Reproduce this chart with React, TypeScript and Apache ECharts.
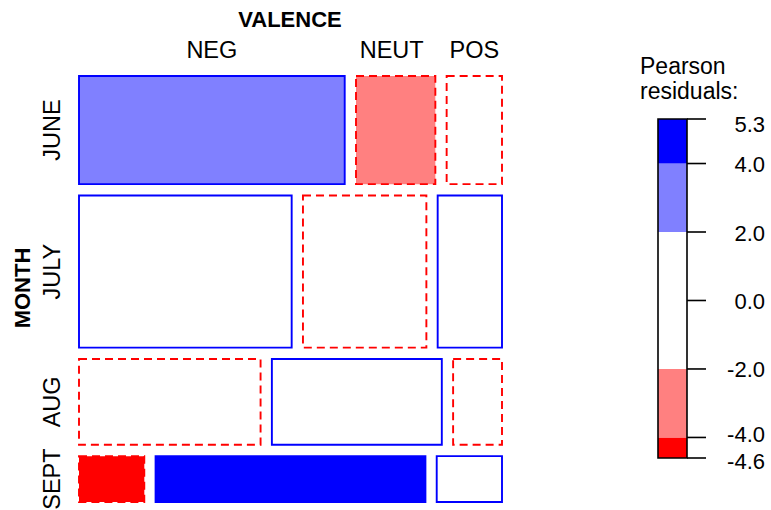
import React, { useEffect, useRef } from "react";
import * as echarts from "echarts";

// ---- data ----
const months = ["JUNE", "JULY", "AUG", "SEPT"];
const valences = ["NEG", "NEUT", "POS"];
const negCounts = [144, 162, 78, 15];
const neutCounts = [43, 94, 73, 62];
const posCounts = [30, 49, 21, 15];

const legendTicks = [5.3, 4.0, 2.0, 0.0, -2.0, -4.0, -4.6];
const legendTickLabels = ["5.3", "4.0", "2.0", "0.0", "-2.0", "-4.0", "-4.6"];
const shadeBreaks = [-4.6, -4, -2, 2, 4, 5.3];
const shadeColors = ["#FF0000", "#FF8080", "#FFFFFF", "#8080FF", "#0000FF"];

const FONT = '"Liberation Sans", Arial, Helvetica, sans-serif';
const LABEL_SIZE = 23.5;

function shadeFor(r: number): string {
  for (let k = 0; k < shadeColors.length; k++) {
    if (r < shadeBreaks[k + 1] || k === shadeColors.length - 1) {
      if (r >= shadeBreaks[k] || k === 0) return shadeColors[k];
    }
  }
  return "#FFFFFF";
}

function buildCells() {
  const table = months.map((_, i) => [negCounts[i], neutCounts[i], posCounts[i]]);
  const rowTot = table.map((r) => r.reduce((a, b) => a + b, 0));
  const colTot = valences.map((_, j) => table.reduce((a, r) => a + r[j], 0));
  const N = rowTot.reduce((a, b) => a + b, 0);
  const gx = 11.3 / 423; // spacing between columns (fraction of plot width)
  const gy = 11.4 / 426; // spacing between rows (fraction of plot height)
  const availY = 1 - gy * (months.length - 1);
  const availX = 1 - gx * (valences.length - 1);
  const cells: number[][] = [];
  let y = 0;
  table.forEach((row, i) => {
    const h = (rowTot[i] / N) * availY;
    let x = 0;
    row.forEach((o, j) => {
      const w = (o / rowTot[i]) * availX;
      const e = (rowTot[i] * colTot[j]) / N;
      const res = (o - e) / Math.sqrt(e);
      cells.push([x, x + w, y, y + h, res, i, j]);
      x += w + gx;
    });
    y += h + gy;
  });
  return cells;
}

export default function App() {
  const ref = useRef<HTMLDivElement>(null);
  useEffect(() => {
    if (!ref.current) return;
    const chart = echarts.init(ref.current, null, { renderer: "svg" });
    const cells = buildCells();
    const bands = shadeColors.map((c, k) => [shadeBreaks[k], shadeBreaks[k + 1], k]);
    const ticks = legendTicks.map((v, k) => [v, k]);

    const option: any = {
      animation: false,
      backgroundColor: "#FFFFFF",
      grid: [
        { left: 79, top: 76, width: 423, height: 426 },
        { left: 658, top: 119, width: 29, height: 339 },
      ],
      xAxis: [
        { type: "value", min: 0, max: 1, show: false, gridIndex: 0 },
        { type: "value", min: 0, max: 1, show: false, gridIndex: 1 },
      ],
      yAxis: [
        { type: "value", min: 0, max: 1, inverse: true, show: false, gridIndex: 0 },
        { type: "value", min: -4.6, max: 5.3, show: false, gridIndex: 1 },
      ],
      graphic: [
        {
          type: "text",
          x: 290,
          y: 19,
          style: {
            text: "VALENCE",
            fontSize: 22,
            fontWeight: "bold",
            fontFamily: FONT,
            fill: "#000",
            align: "center",
            verticalAlign: "middle",
          },
        },
        {
          type: "text",
          x: 22,
          y: 288,
          rotation: Math.PI / 2,
          style: {
            text: "MONTH",
            fontSize: 22,
            fontWeight: "bold",
            fontFamily: FONT,
            fill: "#000",
            align: "center",
            verticalAlign: "middle",
          },
        },
        {
          type: "text",
          x: 640,
          y: 66,
          style: {
            text: "Pearson",
            fontSize: 23,
            fontFamily: FONT,
            fill: "#000",
            align: "left",
            verticalAlign: "middle",
          },
        },
        {
          type: "text",
          x: 640,
          y: 91,
          style: {
            text: "residuals:",
            fontSize: 23,
            fontFamily: FONT,
            fill: "#000",
            align: "left",
            verticalAlign: "middle",
          },
        },
      ],
      series: [
        {
          type: "custom",
          xAxisIndex: 0,
          yAxisIndex: 0,
          clip: false,
          data: cells,
          renderItem: (params: any, api: any) => {
            const x0 = api.value(0), x1 = api.value(1), y0 = api.value(2), y1 = api.value(3);
            const res = api.value(4);
            const i = api.value(5), j = api.value(6);
            const p0 = api.coord([x0, y0]);
            const p1 = api.coord([x1, y1]);
            const pos = res >= 0;
            const children: any[] = [
              {
                type: "rect",
                shape: { x: p0[0], y: p0[1], width: p1[0] - p0[0], height: p1[1] - p0[1] },
                style: {
                  fill: shadeFor(res),
                  stroke: pos ? "#0000FF" : "#FF0000",
                  lineWidth: 1.9,
                  lineDash: pos ? null : [8, 5],
                },
              },
            ];
            if (i === 0) {
              children.push({
                type: "text",
                x: (p0[0] + p1[0]) / 2 - (j === 1 ? 4 : 0),
                y: p0[1] - 26,
                style: {
                  text: valences[j],
                  fontSize: LABEL_SIZE,
                  fontFamily: FONT,
                  fill: "#000",
                  align: "center",
                  verticalAlign: "middle",
                },
              });
            }
            if (j === 0) {
              children.push({
                type: "text",
                x: p0[0] - 27,
                y: (p0[1] + p1[1]) / 2,
                rotation: Math.PI / 2,
                style: {
                  text: months[i],
                  fontSize: LABEL_SIZE,
                  fontFamily: FONT,
                  fill: "#000",
                  align: "center",
                  verticalAlign: "middle",
                },
              });
            }
            return { type: "group", children };
          },
        },
        {
          type: "custom",
          xAxisIndex: 1,
          yAxisIndex: 1,
          clip: false,
          data: bands,
          renderItem: (params: any, api: any) => {
            const lo = api.value(0), hi = api.value(1), k = api.value(2);
            const a = api.coord([0, hi]);
            const b = api.coord([1, lo]);
            return {
              type: "rect",
              shape: { x: a[0], y: a[1], width: b[0] - a[0], height: b[1] - a[1] },
              style: { fill: shadeColors[k], stroke: null },
            };
          },
        },
        {
          type: "custom",
          xAxisIndex: 1,
          yAxisIndex: 1,
          clip: false,
          data: [[-4.6, 5.3]],
          renderItem: (params: any, api: any) => {
            const a = api.coord([0, api.value(1)]);
            const b = api.coord([1, api.value(0)]);
            return {
              type: "rect",
              shape: { x: a[0], y: a[1], width: b[0] - a[0], height: b[1] - a[1] },
              style: { fill: null, stroke: "#000", lineWidth: 1.6 },
            };
          },
        },
        {
          type: "custom",
          xAxisIndex: 1,
          yAxisIndex: 1,
          clip: false,
          data: ticks,
          renderItem: (params: any, api: any) => {
            const v = api.value(0), k = api.value(1);
            const p = api.coord([1, v]);
            const last = legendTicks.length - 1;
            const dy = k === 0 ? 5 : k === last ? 3 : k === last - 1 ? -3 : 1;
            return {
              type: "group",
              children: [
                {
                  type: "line",
                  shape: { x1: p[0], y1: p[1], x2: p[0] + 19, y2: p[1] },
                  style: { stroke: "#000", lineWidth: 1.6 },
                },
                {
                  type: "text",
                  x: 765,
                  y: p[1] + dy,
                  style: {
                    text: legendTickLabels[k],
                    fontSize: 22,
                    fontFamily: FONT,
                    fill: "#000",
                    align: "right",
                    verticalAlign: "middle",
                  },
                },
              ],
            };
          },
        },
      ],
    };
    chart.setOption(option);
    return () => chart.dispose();
  }, []);
  return (
    <div
      ref={ref}
      style={{ position: "fixed", left: 0, top: 0, width: 771, height: 510, background: "#fff" }}
    />
  );
}
